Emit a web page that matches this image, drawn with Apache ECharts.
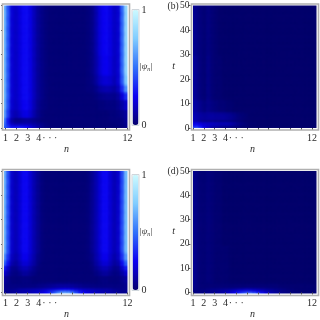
<!DOCTYPE html>
<html><head><meta charset="utf-8">
<style>html,body{margin:0;padding:0;background:#fff}
#heat,#axes{position:absolute;left:0;top:0;width:320px;height:320px}
#heat{clip-path:path('M4 5.5h123.5v122.5h-123.5z M193 5.5h123.5v122.5h-123.5z M4 171h123.5v122.5h-123.5z M193 171h123.5v122.5h-123.5z')}</style>
<script src="https://cdn.jsdelivr.net/npm/echarts@6/dist/echarts.min.js"></script></head>
<body><div id="heat"></div><div id="axes"></div>
<script>
// Cell values are |psi_n| in hundredths, 33 columns over n = 1..12.
const nTickLabels = ['1','2','3','4','· · ·','','','','','','','12'];
const colorStops = ['#05006e','#0c00f0','#3070fa','#80ccff','#ccfaff'];

const aRowStarts = [0,1,2,3,5,8,12,15,18,22,30];
const aRows = [
 [42,36,32,34,34,30,26,19,12,7,4,3,2,2,2,2,2,2,2,2,2,2,2,2,2,2,2,2,2,2,2,3,5],
 [48,38,28,28,30,29,27,21,16,11,7,4,3,2,2,2,2,2,2,2,2,2,2,2,2,2,2,2,2,2,2,3,6],
 [52,30,14,11,12,12,12,11,9,7,5,3,2,2,2,2,2,2,2,2,2,2,2,2,2,2,2,2,2,2,3,4,7],
 [58,30,11,6,7,8,9,8,6,4,2,2,2,2,2,2,2,2,2,2,2,2,2,2,2,2,2,2,3,3,3,4,8],
 [66,38,16,13,17,22,23,18,11,6,3,2,2,2,2,2,2,2,2,2,2,2,2,2,2,2,2,2,3,3,4,6,10],
 [70,42,19,16,20,26,27,21,13,7,4,3,2,2,2,2,2,2,2,2,2,2,2,2,2,3,3,4,4,4,6,11,18],
 [72,44,20,17,21,27,28,22,14,8,5,3,2,2,2,2,2,2,2,2,2,2,2,2,3,5,6,7,7,6,9,21,36],
 [72,44,20,17,21,27,28,22,14,8,5,3,2,2,2,2,2,2,2,2,2,2,3,3,5,9,12,13,12,10,15,34,60],
 [72,44,20,17,21,27,28,22,14,8,5,3,2,2,2,2,2,2,2,2,2,2,3,4,8,15,19,20,18,14,19,44,76],
 [72,44,20,17,21,27,28,22,14,8,5,3,2,2,2,2,2,2,2,2,2,2,3,5,10,18,24,25,21,16,19,48,82],
 [72,44,20,17,21,27,28,22,14,8,5,3,2,2,2,2,2,2,2,2,2,2,3,5,11,20,26,27,22,17,19,48,82]
];

const bRowStarts = [0,1,2,3,4,7,12,30];
const bRows = [
 [58,62,46,28,17,10,7,5,4,3,2,1,1,0,0,0,0,0,0,0,0,0,0,0,0,0,0,0,0,0,0,0,0],
 [32,34,28,20,15,12,10,8,7,6,5,3,2,1,1,0,0,0,0,0,0,0,0,0,0,0,0,0,0,0,0,0,0],
 [24,25,22,20,19,18,17,16,16,16,14,10,7,4,2,1,1,0,0,0,0,0,0,0,0,0,0,0,0,0,0,0,0],
 [15,12,8,6,6,6,5,5,5,5,4,3,2,1,0,0,0,0,0,0,0,0,0,0,0,0,0,0,0,0,0,0,0],
 [15,12,10,9,10,10,9,9,9,8,7,5,3,2,1,0,0,0,0,0,0,0,0,0,0,0,0,0,0,0,0,0,0],
 [12,9,6,4,6,4,3,2,2,1,1,0,0,0,0,0,0,0,0,0,0,0,0,0,0,0,0,0,0,0,0,0,0],
 [10,6,3,2,5,2,1,1,0,0,0,0,0,0,0,0,0,0,0,0,0,0,0,0,0,0,0,0,0,0,0,0,0],
 [8,5,3,2,4,2,1,0,0,0,0,0,0,0,0,0,0,0,0,0,0,0,0,0,0,0,0,0,0,0,0,0,0]
];

const cRowStarts = [0,1,2,3,5,8,10,12,14,17];
const cRows = [
 [6,6,7,8,9,10,11,12,14,16,19,25,34,50,72,90,95,90,72,50,34,25,19,16,14,12,11,10,9,8,7,6,6],
 [7,7,8,10,12,13,14,15,17,19,22,27,33,40,48,54,56,54,46,38,31,26,21,19,17,15,14,13,12,10,8,7,7],
 [7,6,6,7,9,10,11,11,12,12,13,15,17,19,21,23,24,23,21,18,16,14,13,12,11,11,10,10,9,7,6,6,7],
 [7,5,4,4,4,4,4,4,4,5,5,6,7,8,9,9,9,9,8,7,6,5,5,4,4,4,4,4,4,4,4,5,7],
 [10,6,3,3,3,4,4,3,2,2,2,2,2,2,2,2,2,2,2,2,2,2,2,2,2,3,4,4,3,3,3,6,10],
 [19,11,5,4,6,9,9,6,4,2,2,2,2,2,2,2,2,2,2,2,2,2,2,2,4,6,9,9,6,4,5,11,19],
 [32,18,7,6,10,14,14,10,6,3,2,2,2,2,2,2,2,2,2,2,2,2,2,3,6,10,14,14,10,6,7,18,32],
 [48,28,12,9,14,20,20,14,9,4,2,2,2,2,2,2,2,2,2,2,2,2,2,4,9,14,20,20,14,9,12,28,48],
 [62,36,16,12,17,24,24,17,11,5,3,2,2,2,2,2,2,2,2,2,2,2,3,5,11,17,24,24,17,12,16,36,62],
 [72,42,18,14,19,27,27,19,12,7,3,2,2,2,2,2,2,2,2,2,2,2,3,7,12,19,27,27,19,14,18,42,72]
];

const dRowStarts = [0,1,2,3,5,20];
const dRows = [
 [3,3,4,4,5,6,7,8,10,13,18,28,40,56,70,78,70,54,38,26,17,12,8,6,4,3,2,2,2,2,2,2,2],
 [4,4,4,5,6,7,8,10,12,15,18,23,28,31,33,33,30,26,21,17,13,10,8,6,5,4,3,2,2,2,2,2,2],
 [5,4,3,3,4,5,5,6,7,7,8,9,11,12,13,13,12,11,9,8,7,6,5,4,3,2,2,1,1,1,1,1,1],
 [7,4,2,2,2,2,2,2,2,2,2,2,2,2,2,2,2,2,2,2,2,2,2,1,1,1,1,1,1,1,1,1,1],
 [8,4,2,2,3,2,1,1,1,1,0,0,0,0,0,0,0,0,0,0,0,0,0,0,0,0,0,0,0,0,0,0,0],
 [7,4,2,2,3,2,1,1,0,0,0,0,0,0,0,0,0,0,0,0,0,0,0,0,0,0,0,0,0,0,0,0,0]
];

const panels = [
 {name:'a', starts:aRowStarts, rows:aRows, left:4,   top:5.5, showY:false},
 {name:'b', starts:bRowStarts, rows:bRows, left:193, top:5.5, showY:true, tag:'(b)'},
 {name:'c', starts:cRowStarts, rows:cRows, left:4,   top:171, showY:false},
 {name:'d', starts:dRowStarts, rows:dRows, left:193, top:171, showY:true, tag:'(d)'}
];
const W = 123.5, H = 122.5, BLEED = 1, FONT = '"Liberation Serif","Times New Roman",serif', INK = '#2a2a2a';
const nCols = 33, nT = 50;

function cells(starts, rows){
  const out = [];
  for(let t=0;t<nT;t++){
    let r = 0;
    while(r+1<starts.length && starts[r+1]<=t) r++;
    for(let c=0;c<nCols;c++){
      const v = rows[r][c]/100;
      out.push({value:[c,t,v],itemStyle:{borderWidth:1.5,borderColor:echarts.color.lerp(v,colorStops)}});
    }
  }
  return out;
}
const colCats = Array.from({length:nCols},(_,i)=>String(i));
const rowCats = Array.from({length:nT},(_,i)=>String(i));

// Colour layer: the heatmaps, drawn at half resolution so the browser smooths the cells
const hGrid=[],hX=[],hY=[],hSeries=[];
panels.forEach((p,k)=>{
  hGrid.push({show:true,backgroundColor:colorStops[0],borderWidth:0,left:p.left-BLEED,top:p.top-BLEED,width:W+2*BLEED,height:H+2*BLEED});
  hX.push({type:'category',gridIndex:k,data:colCats,show:false});
  hY.push({type:'category',gridIndex:k,data:rowCats,show:false});
  hSeries.push({type:'heatmap',name:p.name,xAxisIndex:k,yAxisIndex:k,data:cells(p.starts,p.rows),silent:true,progressive:0,animation:false});
});
echarts.init(document.getElementById('heat'),null,{devicePixelRatio:0.5}).setOption({animation:false,grid:hGrid,xAxis:hX,yAxis:hY,series:hSeries,
  visualMap:{show:false,type:'continuous',min:0,max:1,dimension:2,inRange:{color:colorStops}}});

// Axes layer: frames, ticks, labels, colour bars
const grid=[],xAxis=[],yAxis=[],graphic=[];
const txt=(x,y,text,extra)=>({type:'text',x,y,silent:true,style:Object.assign({text,font:'10px '+FONT,fill:INK,align:'center',verticalAlign:'middle'},extra||{})});
panels.forEach((p,k)=>{
  grid.push({left:p.left,top:p.top,width:W,height:H});
  xAxis.push({type:'value',gridIndex:k,min:1,max:12,interval:1,position:'bottom',offset:2.5,
    splitLine:{show:false},axisLine:{show:false},
    axisTick:{show:true,length:2,lineStyle:{color:'#555',width:1}},
    axisLabel:{show:true,margin:3,fontFamily:FONT,fontSize:10,color:INK,formatter:v=>nTickLabels[v-1]},
    name:'n',nameLocation:'middle',nameGap:14,nameTextStyle:{fontFamily:FONT,fontStyle:'italic',fontSize:10,color:INK}});
  yAxis.push({type:'value',gridIndex:k,min:0,max:50,interval:10,position:'left',offset:2.5,
    splitLine:{show:false},axisLine:{show:false},
    axisTick:{show:true,length:2,lineStyle:{color:'#555',width:1}},
    axisLabel:{show:p.showY,margin:1,fontFamily:FONT,fontSize:9.5,color:INK},
    name:p.showY?'t':'',nameLocation:'middle',nameGap:11,nameRotate:0,nameTextStyle:{fontFamily:FONT,fontStyle:'italic',fontSize:10,color:INK,padding:[0,0,4,0]}});
  graphic.push({type:'rect',silent:true,z:10,shape:{x:p.left-1.5,y:p.top-1.5,width:W+3.5,height:H+3.5},style:{fill:'none',stroke:'#b0b0b0',lineWidth:1.6}});
  if(p.tag) graphic.push(txt(p.left-20,p.top+0.5,p.tag,{font:'9.5px '+FONT}));
});
const barTops=[10,175];
barTops.forEach(top=>{
  graphic.push({type:'rect',silent:true,z:10,shape:{x:132,y:top-0.5,width:7,height:116},style:{fill:'none',stroke:'#cfd6dc',lineWidth:1}});
  graphic.push(txt(144,top,'1'));
  graphic.push(txt(144,top+115,'0'));
  graphic.push({type:'text',x:146,y:top+57,silent:true,style:{text:'{a||ψ}{b|n}{a||}',align:'center',verticalAlign:'middle',fill:INK,
    rich:{a:{font:'italic 9px '+FONT,fill:INK},b:{font:'italic 6px '+FONT,fill:INK,verticalAlign:'bottom',padding:[4,0,0,0]}}}});
});
const visualMap=barTops.map(top=>({type:'continuous',min:0,max:1,seriesIndex:[],calculable:false,left:132.5,top,itemWidth:6,itemHeight:115,
  text:['',''],showLabel:false,inRange:{color:colorStops},padding:0,borderWidth:0}));
echarts.init(document.getElementById('axes')).setOption({animation:false,grid,xAxis,yAxis,series:[],visualMap,graphic:{elements:graphic}});
</script></body></html>
